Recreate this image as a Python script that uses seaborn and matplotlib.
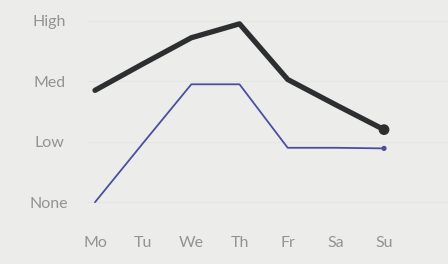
import matplotlib
matplotlib.use("Agg")
import matplotlib.pyplot as plt
import seaborn as sns
import pandas as pd

days = ["Mo", "Tu", "We", "Th", "Fr", "Sa", "Su"]
level_labels = ["None", "Low", "Med", "High"]
series_dark = [1.85, 2.29, 2.72, 2.95, 2.03, 1.61, 1.2]
series_blue = [0.0, 0.98, 1.95, 1.95, 0.9, 0.9, 0.89]

sns.set_theme(style="white")
plt.rcParams["font.family"] = ["Lato", "DejaVu Sans"]

bg = "#ecedeb"
fig = plt.figure(figsize=(4.48, 2.64), dpi=100, facecolor=bg)
ax = fig.add_axes([88 / 448, 39 / 264, 360 / 448, 225 / 264])
ax.set_facecolor(bg)

df = pd.DataFrame({"x": list(range(len(days))), "dark": series_dark, "blue": series_blue})

# faint gridlines
for v in range(len(level_labels)):
    ax.axhline(v, color="#e4e6e4", lw=0.8, zorder=0)

sns.lineplot(data=df, x="x", y="blue", ax=ax, color="#4b4f9e", lw=1.3, zorder=3)
sns.lineplot(data=df, x="x", y="dark", ax=ax, color="#2c2e30", lw=3.8, zorder=4)
last = df.iloc[[-1]]
sns.scatterplot(data=last, x="x", y="dark", ax=ax, color="#2c2e30", s=60, edgecolor="none", zorder=5)
sns.scatterplot(data=last, x="x", y="blue", ax=ax, color="#4b4f9e", s=14, edgecolor="none", zorder=5)

ax.set_xlim(-7 / 48.17, -7 / 48.17 + 360 / 48.17)
ax.set_ylim(-23 / 61, 204 / 61)
ax.set_xticks(range(len(days)))
ax.set_xticklabels(days)
ax.set_yticks(range(len(level_labels)))
ax.set_yticklabels(level_labels)
for lab in ax.get_yticklabels():
    lab.set_horizontalalignment("center")
ax.tick_params(axis="y", length=0, pad=28, labelsize=11.5, labelcolor="#939393")
ax.tick_params(axis="x", length=0, pad=8, labelsize=11.5, labelcolor="#939393")
ax.set_xlabel("")
ax.set_ylabel("")
for s in ax.spines.values():
    s.set_visible(False)

fig.savefig("out.png", dpi=100, facecolor=bg)
